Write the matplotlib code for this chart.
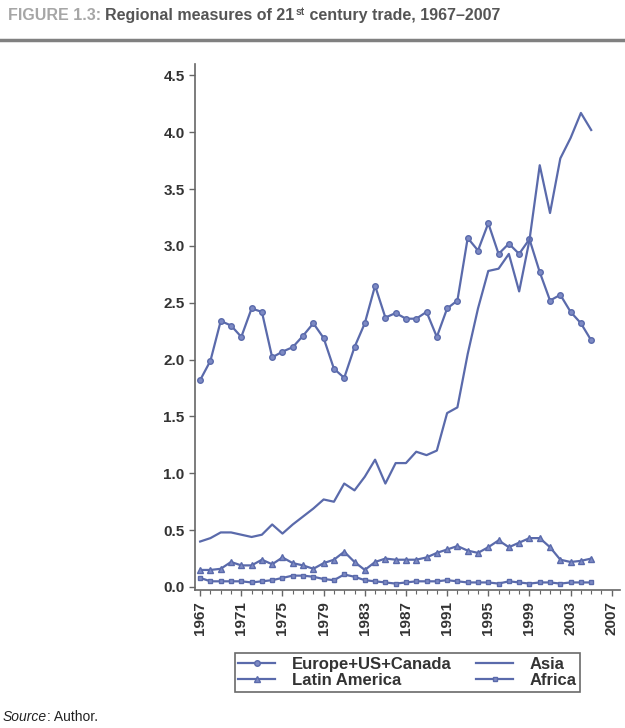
import matplotlib
matplotlib.use("Agg")
import matplotlib.pyplot as plt
from matplotlib.ticker import MultipleLocator, FixedLocator

plt.rcParams['font.family'] = ['Liberation Sans', 'DejaVu Sans']

# data, 1967-2005
years = list(range(1967, 2006))
europe = [1.82, 1.99, 2.34, 2.30, 2.20, 2.45, 2.42, 2.02, 2.07, 2.11,
          2.21, 2.32, 2.19, 1.92, 1.84, 2.11, 2.32, 2.65, 2.37, 2.41,
          2.36, 2.36, 2.42, 2.20, 2.45, 2.52, 3.07, 2.96, 3.20, 2.93,
          3.02, 2.93, 3.06, 2.77, 2.52, 2.57, 2.42, 2.32, 2.17]
asia = [0.40, 0.43, 0.48, 0.48, 0.46, 0.44, 0.46, 0.55, 0.47, 0.55,
        0.62, 0.69, 0.77, 0.75, 0.91, 0.85, 0.97, 1.12, 0.91, 1.09,
        1.09, 1.19, 1.16, 1.20, 1.53, 1.58, 2.05, 2.45, 2.78, 2.80,
        2.93, 2.60, 3.05, 3.71, 3.29, 3.77, 3.95, 4.17, 4.02]
latin = [0.15, 0.15, 0.16, 0.22, 0.19, 0.19, 0.24, 0.20, 0.26, 0.21,
         0.19, 0.16, 0.21, 0.24, 0.31, 0.22, 0.15, 0.22, 0.25, 0.24,
         0.24, 0.24, 0.26, 0.30, 0.33, 0.36, 0.32, 0.30, 0.35, 0.41,
         0.35, 0.39, 0.43, 0.43, 0.35, 0.24, 0.22, 0.23, 0.25]
africa = [0.08, 0.05, 0.05, 0.05, 0.05, 0.04, 0.05, 0.06, 0.08, 0.10,
          0.10, 0.09, 0.07, 0.06, 0.11, 0.09, 0.06, 0.05, 0.04, 0.03,
          0.04, 0.05, 0.05, 0.05, 0.06, 0.05, 0.04, 0.04, 0.04, 0.03,
          0.05, 0.04, 0.03, 0.04, 0.04, 0.03, 0.04, 0.04, 0.04]
tick_years = [1967, 1971, 1975, 1979, 1983, 1987, 1991, 1995, 1999, 2003, 2007]
y_ticks = [0.0, 0.5, 1.0, 1.5, 2.0, 2.5, 3.0, 3.5, 4.0, 4.5]

line_col = '#5a6aab'
face_col = '#7d8ac4'

fig = plt.figure(figsize=(6.25, 7.28), dpi=100)
ax = fig.add_axes([0.312, 0.189, 0.68, 0.723])

h_eu, = ax.plot(years, europe, color=line_col, lw=1.6, marker='o', ms=4,
                mfc=face_col, mec=line_col, label='Europe+US+Canada')
h_as, = ax.plot(years, asia, color=line_col, lw=1.6, label='Asia')
h_la, = ax.plot(years, latin, color=line_col, lw=1.6, marker='^', ms=4.5,
                mfc=face_col, mec=line_col, label='Latin America')
h_af, = ax.plot(years, africa, color=line_col, lw=1.6, marker='s', ms=3.5,
                mfc=face_col, mec=line_col, label='Africa')

ax.set_xlim(1966.5, 2007.8)
ax.set_ylim(-0.03, 4.6)
ax.xaxis.set_major_locator(FixedLocator(tick_years))
ax.xaxis.set_minor_locator(MultipleLocator(1))
ax.yaxis.set_major_locator(FixedLocator(y_ticks))
ax.set_xticklabels([str(y) for y in tick_years], rotation=90,
                   fontsize=11, fontweight='bold', color='#333333')
ax.set_yticklabels(['%.1f' % v for v in y_ticks], fontsize=11,
                   fontweight='bold', color='#333333')

for s in ['top', 'right']:
    ax.spines[s].set_visible(False)
for s in ['left', 'bottom']:
    ax.spines[s].set_color('#666666')
    ax.spines[s].set_linewidth(1.2)
ax.tick_params(axis='both', which='major', length=4, color='#666666', width=1)
ax.tick_params(axis='x', which='minor', length=3, color='#666666', width=0.8)

# column-first fill: Europe/Latin in the first column, Asia/Africa in the second
leg = ax.legend([h_eu, h_la, h_as, h_af],
                ['Europe+US+Canada', 'Latin America', 'Asia', 'Africa'],
                loc='upper center', bbox_to_anchor=(0.5, -0.11), ncol=2,
                fontsize=12, frameon=True, fancybox=False, edgecolor='#444444',
                handlelength=2.2, columnspacing=1.5, handletextpad=1.0,
                borderpad=0.2, labelspacing=0.1, borderaxespad=0.3)
leg.get_frame().set_linewidth(1.2)
for t in leg.get_texts():
    t.set_fontweight('bold')
    t.set_color('#333333')

# title pieces
t1 = fig.text(0.012, 0.968, 'FIGURE 1.3: ', fontsize=11.5, fontweight='bold',
              color='#a6a6a6', va='bottom')
t2 = plt.annotate('Regional measures of 21', xy=(1, 0), xycoords=t1,
                  fontsize=11.5, fontweight='bold', color='#555555',
                  va='bottom', annotation_clip=False)
t3 = plt.annotate('st', xy=(1, 0.45), xycoords=t2, xytext=(1, 0),
                  textcoords='offset points', fontsize=7.5,
                  fontweight='bold', color='#555555', va='bottom',
                  annotation_clip=False)
t4 = plt.annotate(' century trade, 1967\u20132007', xy=(1, 0),
                  xycoords=(t3, t2), fontsize=11.5, fontweight='bold',
                  color='#555555', va='bottom', annotation_clip=False)

fig.add_artist(plt.Line2D([0.0, 1.0], [0.945, 0.945], color='#808080',
                          lw=2.5, transform=fig.transFigure))

s1 = fig.text(0.004, 0.006, 'Source', fontsize=10, style='italic',
              color='#222222', va='bottom')
plt.annotate(': Author.', xy=(1, 0), xycoords=s1, fontsize=10,
             color='#222222', va='bottom', annotation_clip=False)

fig.savefig('out.png', dpi=100)
